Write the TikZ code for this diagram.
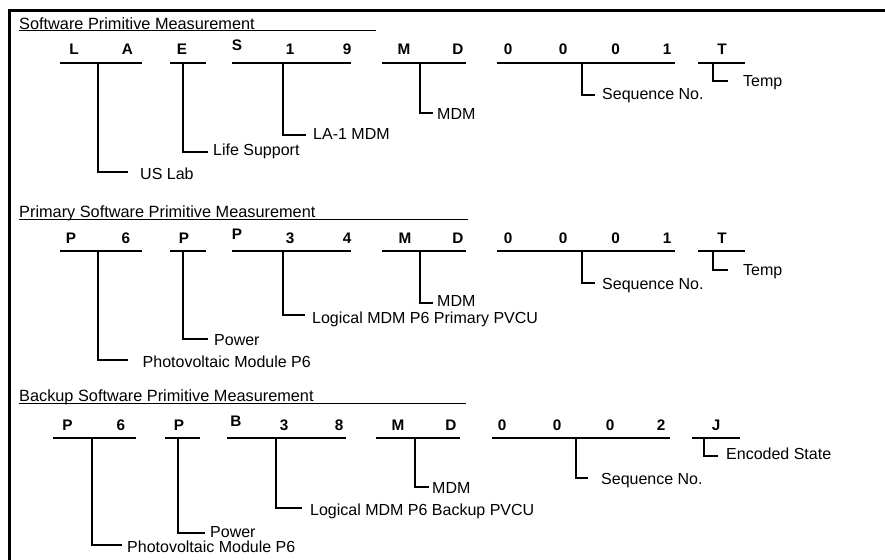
\documentclass[tikz,border=0pt]{standalone}
\usepackage{fontspec}
\setmainfont{Liberation Sans}
\begin{document}
\begin{tikzpicture}[x=1pt,y=-1pt,
  ltr/.style={font=\fontsize{15.3}{18}\selectfont\bfseries, inner sep=0pt, anchor=base},
  lab/.style={font=\fontsize{16}{19}\selectfont, inner sep=0pt, text height=11.5pt, text depth=0pt, anchor=west},
  ttl/.style={font=\fontsize{16.3}{19}\selectfont, inner sep=0pt, anchor=base west},
  seg/.style={line width=2pt},
  conn/.style={line width=2pt, line join=miter},
  tline/.style={line width=1pt},
  frameline/.style={line width=2.5pt, line join=miter}]
\useasboundingbox (0,0) rectangle (885,559);
% frame
\coordinate (fTR) at (886,10.5);
\coordinate (fTL) at (9.3,10.5);
\coordinate (fBL) at (9.3,560);
\draw[frameline] (fTR) -- (fTL) -- (fBL);

% ================= Section 1 =================
\node[ttl] (t1) at (19,29.3) {Software Primitive Measurement};
\coordinate (t1a) at (19,31); \coordinate (t1b) at (376,31);
\draw[tline] (t1a) -- (t1b);

\node[ltr] (a1) at (74,55) {L};
\node[ltr] (a2) at (127.5,55) {A};
\node[ltr] (a3) at (182,55) {E};
\node[ltr] (a4) at (237,50.5) {S};
\node[ltr] (a5) at (290,55) {1};
\node[ltr] (a6) at (347,55) {9};
\node[ltr] (a7) at (404,55) {M};
\node[ltr] (a8) at (458,55) {D};
\node[ltr] (a9) at (508,55) {0};
\node[ltr] (a10) at (563,55) {0};
\node[ltr] (a11) at (615.5,55) {0};
\node[ltr] (a12) at (667,55) {1};
\node[ltr] (a13) at (722,55) {T};

\coordinate (as1a) at (60,63);  \coordinate (as1b) at (142,63);
\coordinate (as2a) at (170,63); \coordinate (as2b) at (206,63);
\coordinate (as3a) at (232,63); \coordinate (as3b) at (351,63);
\coordinate (as4a) at (382,63); \coordinate (as4b) at (466,63);
\coordinate (as5a) at (497,63); \coordinate (as5b) at (675,63);
\coordinate (as6a) at (698,63); \coordinate (as6b) at (745,63);
\foreach \i in {1,...,6} {\draw[seg] (as\i a) -- (as\i b);}

\coordinate (ad1) at (98,63);   \coordinate (ae1) at (128,172);
\coordinate (ad2) at (183,63);  \coordinate (ae2) at (208,152);
\coordinate (ad3) at (283,63);  \coordinate (ae3) at (306,135);
\coordinate (ad4) at (420,63);  \coordinate (ae4) at (433,113.3);
\coordinate (ad5) at (582,63);  \coordinate (ae5) at (595,95);
\coordinate (ad6) at (713,63);  \coordinate (ae6) at (728,80.7);
\node[lab] (al1) at (140,174) {US Lab};
\node[lab] (al2) at (213,149.5) {Life Support};
\node[lab] (al3) at (313,134) {LA-1 MDM};
\node[lab] (al4) at (437,114) {MDM};
\node[lab] (al5) at (602,94) {Sequence No.};
\node[lab] (al6) at (743,81) {Temp};
\foreach \i in {1,...,6} {\draw[conn] (ad\i) |- (ae\i);}

% ================= Section 2 =================
\node[ttl] (t2) at (19,217.5) {Primary Software Primitive Measurement};
\coordinate (t2a) at (19,219.5); \coordinate (t2b) at (468,219.5);
\draw[tline] (t2a) -- (t2b);

\node[ltr] (b1) at (71,243) {P};
\node[ltr] (b2) at (126,243) {6};
\node[ltr] (b3) at (184,243) {P};
\node[ltr] (b4) at (237,239) {P};
\node[ltr] (b5) at (290,243) {3};
\node[ltr] (b6) at (347,243) {4};
\node[ltr] (b7) at (405,243) {M};
\node[ltr] (b8) at (458,243) {D};
\node[ltr] (b9) at (508,243) {0};
\node[ltr] (b10) at (563,243) {0};
\node[ltr] (b11) at (615.5,243) {0};
\node[ltr] (b12) at (667,243) {1};
\node[ltr] (b13) at (722,243) {T};

\coordinate (bs1a) at (60,251);  \coordinate (bs1b) at (142,251);
\coordinate (bs2a) at (170,251); \coordinate (bs2b) at (206,251);
\coordinate (bs3a) at (232,251); \coordinate (bs3b) at (351,251);
\coordinate (bs4a) at (382,251); \coordinate (bs4b) at (466,251);
\coordinate (bs5a) at (497,251); \coordinate (bs5b) at (675,251);
\coordinate (bs6a) at (698,251); \coordinate (bs6b) at (745,251);
\foreach \i in {1,...,6} {\draw[seg] (bs\i a) -- (bs\i b);}

\coordinate (bd1) at (98,251);   \coordinate (be1) at (128,360);
\coordinate (bd2) at (183,251);  \coordinate (be2) at (208,339.3);
\coordinate (bd3) at (283,251);  \coordinate (be3) at (305,315);
\coordinate (bd4) at (420,251);  \coordinate (be4) at (433,302.5);
\coordinate (bd5) at (582,251);  \coordinate (be5) at (595,283.3);
\coordinate (bd6) at (713,251);  \coordinate (be6) at (728,270);
\node[lab] (bl1) at (142.5,361.5) {Photovoltaic Module P6};
\node[lab] (bl2) at (214,339.5) {Power};
\node[lab] (bl3) at (312,317.5) {Logical MDM P6 Primary PVCU};
\node[lab] (bl4) at (437,301) {MDM};
\node[lab] (bl5) at (602,283.5) {Sequence No.};
\node[lab] (bl6) at (743,270) {Temp};
\foreach \i in {1,...,6} {\draw[conn] (bd\i) |- (be\i);}

% ================= Section 3 =================
\node[ttl] (t3) at (19,401.5) {Backup Software Primitive Measurement};
\coordinate (t3a) at (19,403.3); \coordinate (t3b) at (466,403.3);
\draw[tline] (t3a) -- (t3b);

\node[ltr] (c1) at (67.5,430) {P};
\node[ltr] (c2) at (121,430) {6};
\node[ltr] (c3) at (179,430) {P};
\node[ltr] (c4) at (236,426) {B};
\node[ltr] (c5) at (284,430) {3};
\node[ltr] (c6) at (339,430) {8};
\node[ltr] (c7) at (398,430) {M};
\node[ltr] (c8) at (451,430) {D};
\node[ltr] (c9) at (502,430) {0};
\node[ltr] (c10) at (557,430) {0};
\node[ltr] (c11) at (610,430) {0};
\node[ltr] (c12) at (661,430) {2};
\node[ltr] (c13) at (716,430) {J};

\coordinate (cs1a) at (53,438);  \coordinate (cs1b) at (136,438);
\coordinate (cs2a) at (165,438); \coordinate (cs2b) at (200,438);
\coordinate (cs3a) at (227,438); \coordinate (cs3b) at (346,438);
\coordinate (cs4a) at (376,438); \coordinate (cs4b) at (460,438);
\coordinate (cs5a) at (492,438); \coordinate (cs5b) at (670,438);
\coordinate (cs6a) at (692,438); \coordinate (cs6b) at (740,438);
\foreach \i in {1,...,6} {\draw[seg] (cs\i a) -- (cs\i b);}

\coordinate (cd1) at (92,438);   \coordinate (ce1) at (122,545);
\coordinate (cd2) at (178,438);  \coordinate (ce2) at (205,532.5);
\coordinate (cd3) at (276,438);  \coordinate (ce3) at (302,508.3);
\coordinate (cd4) at (415,438);  \coordinate (ce4) at (429,487);
\coordinate (cd5) at (576,438);  \coordinate (ce5) at (588,478.3);
\coordinate (cd6) at (704,438);  \coordinate (ce6) at (718,456);
\node[lab] (cl1) at (127,546.5) {Photovoltaic Module P6};
\node[lab] (cl2) at (210,531.5) {Power};
\node[lab] (cl3) at (310,510) {Logical MDM P6 Backup PVCU};
\node[lab] (cl4) at (432,488) {MDM};
\node[lab] (cl5) at (601,479) {Sequence No.};
\node[lab] (cl6) at (726,454) {Encoded State};
\foreach \i in {1,...,6} {\draw[conn] (cd\i) |- (ce\i);}
\end{tikzpicture}
\end{document}
